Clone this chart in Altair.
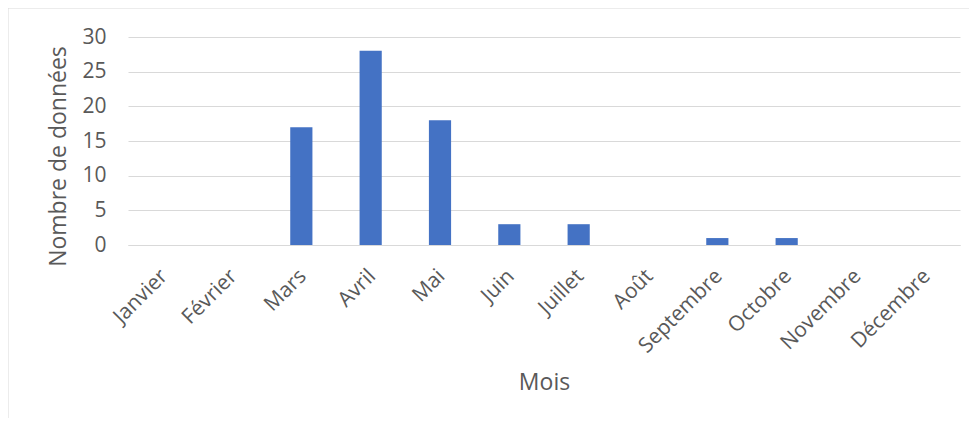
import altair as alt
import pandas as pd

mois = ["Janvier", "Février", "Mars", "Avril", "Mai", "Juin", "Juillet",
        "Août", "Septembre", "Octobre", "Novembre", "Décembre"]
valeurs = [0, 0, 17, 28, 18, 3, 3, 0, 1, 1, 0, 0]
y_ticks = [0, 5, 10, 15, 20, 25, 30]

df = pd.DataFrame({"Mois": mois, "Nombre": valeurs})

FONT = "Open Sans"
GREY = "#595959"

bars = alt.Chart(df).mark_bar(color="#4472C4").encode(
    x=alt.X("Mois:N", sort=mois,
            scale=alt.Scale(paddingInner=0.68, paddingOuter=0.34),
            axis=alt.Axis(title="Mois", labelAngle=-45, labelAlign="right",
                          labelBaseline="top", labelPadding=20, labelOffset=-6,
                          ticks=False, domain=True, domainColor="#D9D9D9",
                          domainWidth=1, labelFontSize=21, labelColor=GREY,
                          labelFont=FONT, titleFont=FONT, titleFontSize=23,
                          titleFontWeight="normal", titleColor=GREY,
                          titleY=137, titleBaseline="middle", grid=False)),
    y=alt.Y("Nombre:Q", scale=alt.Scale(domain=[0, 30]),
            axis=alt.Axis(title="Nombre de données", values=y_ticks,
                          ticks=False, domain=False, labelPadding=22,
                          labelFontSize=21, labelColor=GREY, labelFont=FONT,
                          titleFont=FONT, titleFontSize=23,
                          titleFontWeight="normal", titleColor=GREY,
                          titleX=-70, titleY=119, titleBaseline="middle",
                          titleAngle=-90, gridColor="#D9D9D9", gridWidth=1)),
)

border = alt.Chart(pd.DataFrame({"a": [0]})).mark_rect(
    fill=None, stroke="#D9D9D9", strokeWidth=1
).encode(x=alt.value(-120), x2=alt.value(1000), y=alt.value(-29), y2=alt.value(600))

chart = alt.layer(border, bars).properties(
    width=832, height=208,
    autosize=alt.AutoSizeParams(type="none"),
    padding={"left": 120, "top": 29, "right": 9, "bottom": 173},
    background="white",
).configure_view(stroke=None)

chart.save("out.html", embed_options={"renderer": "svg", "actions": False})
